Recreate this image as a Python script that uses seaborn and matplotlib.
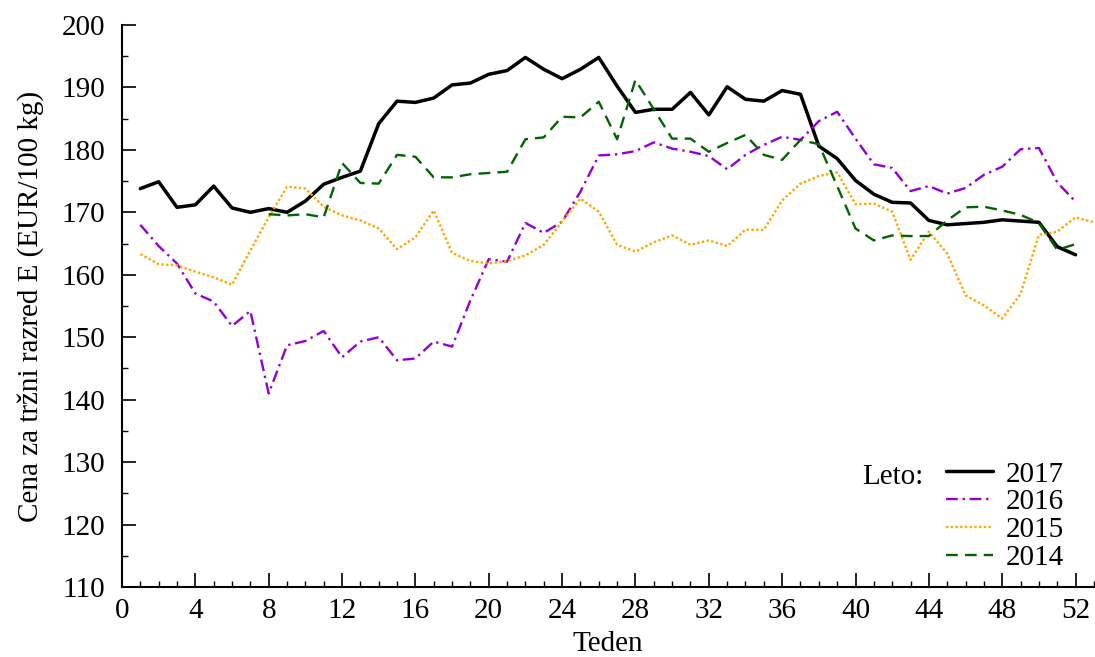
import pandas as pd
import matplotlib
matplotlib.use("Agg")
import matplotlib.pyplot as plt
from matplotlib.lines import Line2D
from matplotlib.ticker import MultipleLocator
import seaborn as sns

# Weekly price, class E carcasses (EUR/100 kg)
years = ["2017", "2016", "2015", "2014"]

weeks_2017 = list(range(1, 53))
price_2017 = [173.8, 174.9, 170.8, 171.2, 174.2, 170.7, 170.0, 170.6, 170.0, 171.8,
              174.5, 175.6, 176.6, 184.2, 187.8, 187.6, 188.3, 190.4, 190.7, 192.1,
              192.7, 194.8, 192.9, 191.4, 192.9, 194.8, 190.2, 186.0, 186.5, 186.5,
              189.2, 185.6, 190.1, 188.1, 187.8, 189.5, 188.9, 180.6, 178.6, 175.1,
              172.9, 171.6, 171.5, 168.7, 168.0, 168.2, 168.4, 168.8, 168.6, 168.4,
              164.5, 163.2]

weeks_2016 = list(range(1, 53))
price_2016 = [168.0, 164.6, 161.8, 157.0, 155.7, 151.8, 154.2, 141.0, 148.7, 149.4,
              151.0, 146.8, 149.3, 150.0, 146.3, 146.6, 149.3, 148.5, 155.9, 162.5,
              162.1, 168.3, 166.7, 168.5, 173.3, 179.1, 179.3, 179.8, 181.2, 180.2,
              179.7, 179.0, 176.9, 179.2, 180.8, 182.1, 181.6, 184.6, 186.1, 181.8,
              177.7, 177.1, 173.4, 174.2, 173.0, 173.9, 176.0, 177.3, 180.1, 180.3,
              174.8, 171.7]

weeks_2015 = list(range(1, 54))
price_2015 = [163.3, 161.7, 161.5, 160.5, 159.6, 158.4, 163.9, 169.2, 174.1, 173.8,
              170.9, 169.5, 168.7, 167.4, 164.1, 166.0, 170.3, 163.5, 162.2, 161.8,
              162.2, 163.1, 164.8, 168.5, 172.2, 170.1, 164.8, 163.7, 165.2, 166.3,
              164.8, 165.5, 164.6, 167.2, 167.2, 171.9, 174.6, 175.8, 176.4, 171.3,
              171.4, 170.1, 162.4, 166.9, 163.4, 156.7, 155.1, 153.0, 156.9, 166.4,
              166.9, 169.2, 168.4]

weeks_2014 = list(range(8, 53))
price_2014 = [169.7, 169.5, 169.7, 169.2, 177.9, 174.7, 174.6, 179.2, 178.9, 175.6,
              175.6, 176.1, 176.3, 176.5, 181.7, 182.0, 185.3, 185.2, 187.7, 181.7,
              191.2, 186.5, 181.8, 181.8, 179.7, 181.1, 182.4, 179.2, 178.4, 181.6,
              180.9, 174.2, 167.4, 165.5, 166.3, 166.2, 166.2, 168.7, 170.8, 170.9,
              170.3, 169.6, 168.3, 164.0, 164.9]

colors = {"2017": "black", "2016": "#9400D3", "2015": "#FFA500", "2014": "#006400"}
dashes = {"2017": "", "2016": (5, 2, 1, 2), "2015": (1, 1), "2014": (5, 3)}
widths = {"2017": 2.5, "2016": 1.7, "2015": 1.7, "2014": 1.7}

FS = 21


def build_frame():
    parts = []
    for yr, wk, pr in [("2017", weeks_2017, price_2017), ("2016", weeks_2016, price_2016),
                       ("2015", weeks_2015, price_2015), ("2014", weeks_2014, price_2014)]:
        parts.append(pd.DataFrame({"teden": wk, "cena": pr, "leto": yr}))
    return pd.concat(parts, ignore_index=True)


def main():
    df = build_frame()

    sns.set_style("ticks", {"axes.edgecolor": "black", "text.color": "black",
                            "axes.labelcolor": "black", "xtick.color": "black",
                            "ytick.color": "black"})
    plt.rcParams["font.family"] = ["Liberation Serif", "DejaVu Serif"]
    plt.rcParams["font.size"] = FS

    fig = plt.figure(figsize=(10.95, 6.57), dpi=100)
    ax = fig.add_axes([0.1114, 0.1065, 0.8876, 0.8555])

    sns.lineplot(data=df, x="teden", y="cena", hue="leto", style="leto", size="leto",
                 hue_order=years, style_order=years, size_order=years,
                 palette=colors, dashes=dashes, sizes=widths,
                 legend=False, ax=ax)

    ax.set_xlim(0, 53)
    ax.set_ylim(110, 200)
    ax.xaxis.set_major_locator(MultipleLocator(4))
    ax.xaxis.set_minor_locator(MultipleLocator(1))
    ax.yaxis.set_major_locator(MultipleLocator(10))
    ax.yaxis.set_minor_locator(MultipleLocator(5))
    ax.tick_params(which="major", direction="in", length=10, width=1.2, labelsize=FS,
                   colors="black")
    ax.tick_params(which="minor", direction="in", length=4, width=1.0, colors="black")
    ax.tick_params(axis="y", pad=12)
    ax.tick_params(axis="x", pad=8)
    for side in ["top", "right"]:
        ax.spines[side].set_visible(False)
    for side in ["left", "bottom"]:
        ax.spines[side].set_linewidth(1.5)
        ax.spines[side].set_color("black")

    ax.set_xlabel("Teden", fontsize=FS, labelpad=5, color="black")
    ax.set_ylabel("Cena za tržni razred E (EUR/100 kg)", fontsize=FS, labelpad=13,
                  color="black")

    handles = [Line2D([], [], color=colors[y], lw=widths[y],
                      dashes=dashes[y] if dashes[y] else (None, None))
               for y in years]
    ax.legend(handles, years, loc="upper left", bbox_to_anchor=(0.848, 0.224),
              frameon=False, handlelength=1.6, handletextpad=0.45,
              labelspacing=0.05, borderaxespad=0, borderpad=0, fontsize=FS,
              labelcolor="black")
    ax.text(0.762, 0.196, "Leto:", transform=ax.transAxes, fontsize=FS, va="center",
            color="black")

    fig.savefig("out.png", dpi=100)
    plt.close(fig)


if __name__ == "__main__":
    main()
